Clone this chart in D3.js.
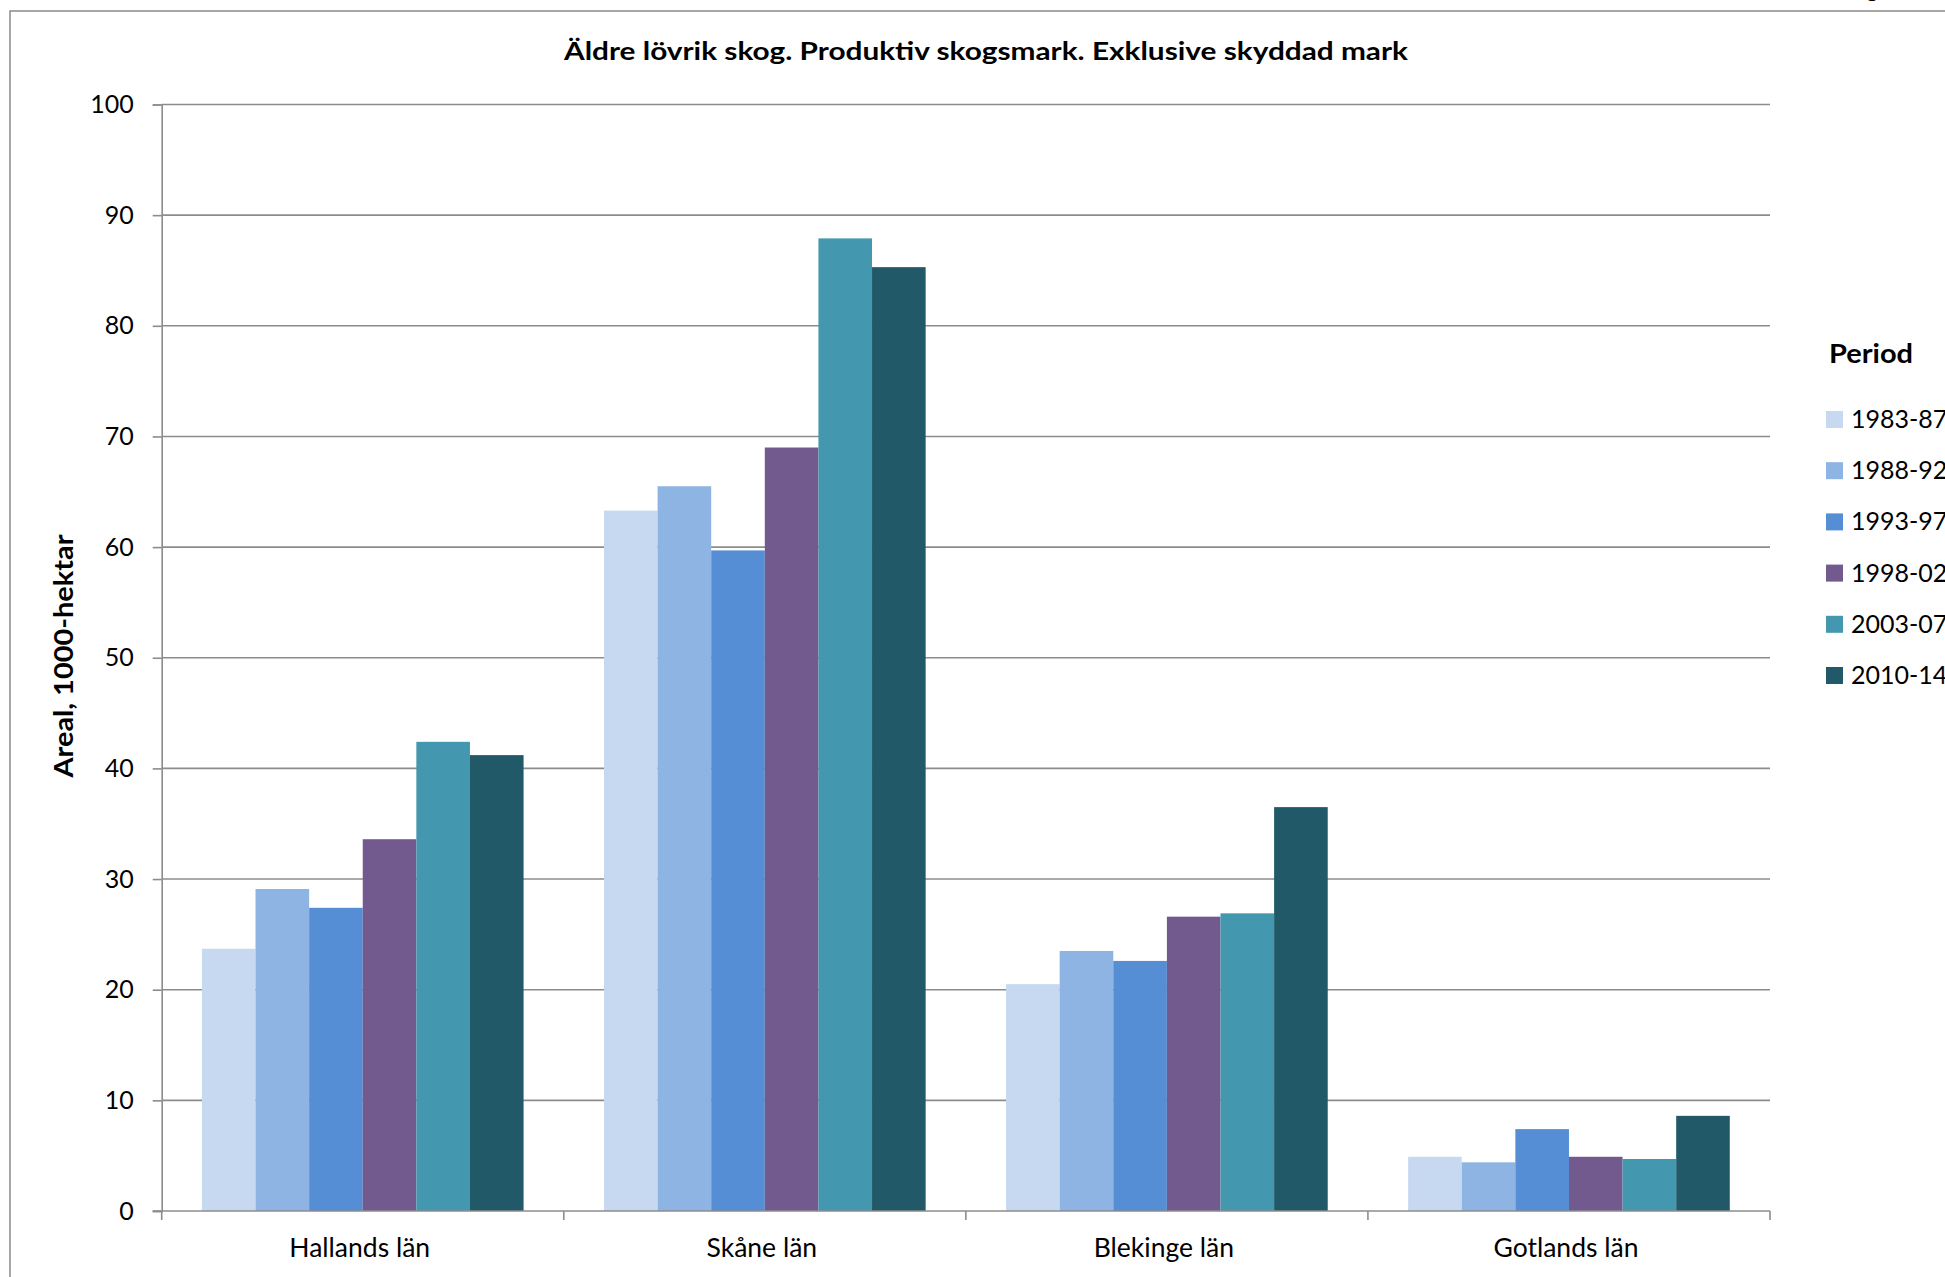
<!DOCTYPE html>
<html><head><meta charset="utf-8">
<script src="https://cdn.jsdelivr.net/npm/d3@7"></script>
<style>body{margin:0;background:#fff;overflow:hidden}svg{display:block}text{font-family:Lato,"Open Sans",sans-serif;fill:#000}</style>
</head><body><svg id="c" width="1945" height="1277"></svg>
<script>
const categories = ["Hallands län", "Skåne län", "Blekinge län", "Gotlands län"];
const periods = ["1983-87", "1988-92", "1993-97", "1998-02", "2003-07", "2010-14"];
const colors = ["#C6D9F1", "#8EB4E3", "#558ED5", "#72598E", "#4398AF", "#215968"];
const v1983 = [23.7, 63.3, 20.5, 4.9];
const v1988 = [29.1, 65.5, 23.5, 4.4];
const v1993 = [27.4, 59.7, 22.6, 7.4];
const v1998 = [33.6, 69.0, 26.6, 4.9];
const v2003 = [42.4, 87.9, 26.9, 4.7];
const v2010 = [41.2, 85.3, 36.5, 8.6];
const series = [v1983, v1988, v1993, v1998, v2003, v2010];
const yTicks = [0, 10, 20, 30, 40, 50, 60, 70, 80, 90, 100];
const title = "Äldre lövrik skog. Produktiv skogsmark. Exklusive skyddad mark";
const yTitle = "Areal, 1000-hektar";
const legendTitle = "Period";

const svg = d3.select("#c");
const L = 161.7, R = 1770, T = 104.5, B = 1211;
const grey = "#8c8c8c";

// outer chart border
svg.append("rect").attr("x", 10).attr("y", 11).attr("width", 2200).attr("height", 2000)
  .attr("fill", "none").attr("stroke", "#8a8a8a").attr("stroke-width", 1.5);
// cut-off glyph from page above
svg.append("text").attr("x", 1866).attr("y", -3).attr("font-size", 24).text("g");

const x0 = d3.scaleBand().domain(categories).range([L, R]).padding(0);
const x1 = d3.scaleBand().domain(periods).range([0, x0.bandwidth()]).paddingInner(0).paddingOuter(0.75);
const y = d3.scaleLinear().domain([0, 100]).range([B, T]);

// gridlines
svg.append("g").selectAll("line").data(yTicks.filter(d => d > 0)).join("line")
  .attr("x1", L).attr("x2", R).attr("y1", d => y(d)).attr("y2", d => y(d))
  .attr("stroke", grey).attr("stroke-width", 1.6);

// bars
const g = svg.append("g");
series.forEach((vals, si) => {
  g.selectAll(null).data(vals).join("rect")
    .attr("x", (d, i) => x0(categories[i]) + x1(periods[si]))
    .attr("width", x1.bandwidth())
    .attr("y", d => y(d))
    .attr("height", d => y(0) - y(d))
    .attr("fill", colors[si]);
});

// y axis
const yAxis = d3.axisLeft(y).tickValues(yTicks).tickSize(9).tickPadding(19).tickFormat(d3.format("d"));
const ya = svg.append("g").attr("transform", `translate(${L},0)`).call(yAxis);
ya.select(".domain").attr("stroke", grey).attr("stroke-width", 1.6);
ya.selectAll(".tick line").attr("stroke", grey).attr("stroke-width", 1.6);
ya.selectAll(".tick text").attr("font-size", 25).attr("font-family", "Lato").attr("fill", "#000");

// x axis
const xa = svg.append("g").attr("transform", `translate(0,${B})`);
xa.append("line").attr("x1", L - 9).attr("x2", R).attr("y1", 0).attr("y2", 0).attr("stroke", grey).attr("stroke-width", 1.6);
const bounds = categories.map(c => x0(c)).concat([R]);
xa.selectAll("line.t").data(bounds).join("line").attr("class", "t")
  .attr("x1", d => d).attr("x2", d => d).attr("y1", 0).attr("y2", 9)
  .attr("stroke", grey).attr("stroke-width", 1.6);
xa.selectAll("text").data(categories).join("text")
  .attr("x", d => x0(d) + x0.bandwidth() / 2 - 3).attr("y", 46)
  .attr("text-anchor", "middle").attr("font-size", 26.5).text(d => d);

// title
svg.append("text").attr("x", 986).attr("y", 60).attr("text-anchor", "middle")
  .attr("font-size", 24).attr("font-weight", "bold")
  .attr("textLength", 844).attr("lengthAdjust", "spacingAndGlyphs").text(title);

// y title
svg.append("text").attr("transform", "translate(73,656) rotate(-90)").attr("text-anchor", "middle")
  .attr("font-size", 26).attr("font-weight", "bold")
  .attr("textLength", 243).attr("lengthAdjust", "spacingAndGlyphs").text(yTitle);

// legend
svg.append("text").attr("x", 1829).attr("y", 363).attr("font-size", 26).attr("font-weight", "bold")
  .attr("textLength", 84).attr("lengthAdjust", "spacingAndGlyphs").text(legendTitle);
const lg = svg.append("g").selectAll("g").data(periods).join("g")
  .attr("transform", (d, i) => `translate(1826,${411 + i * 51.2})`);
lg.append("rect").attr("width", 17).attr("height", 17).attr("fill", (d, i) => colors[i]);
lg.append("text").attr("x", 25).attr("y", 17).attr("font-size", 25).text(d => d);
</script></body></html>
